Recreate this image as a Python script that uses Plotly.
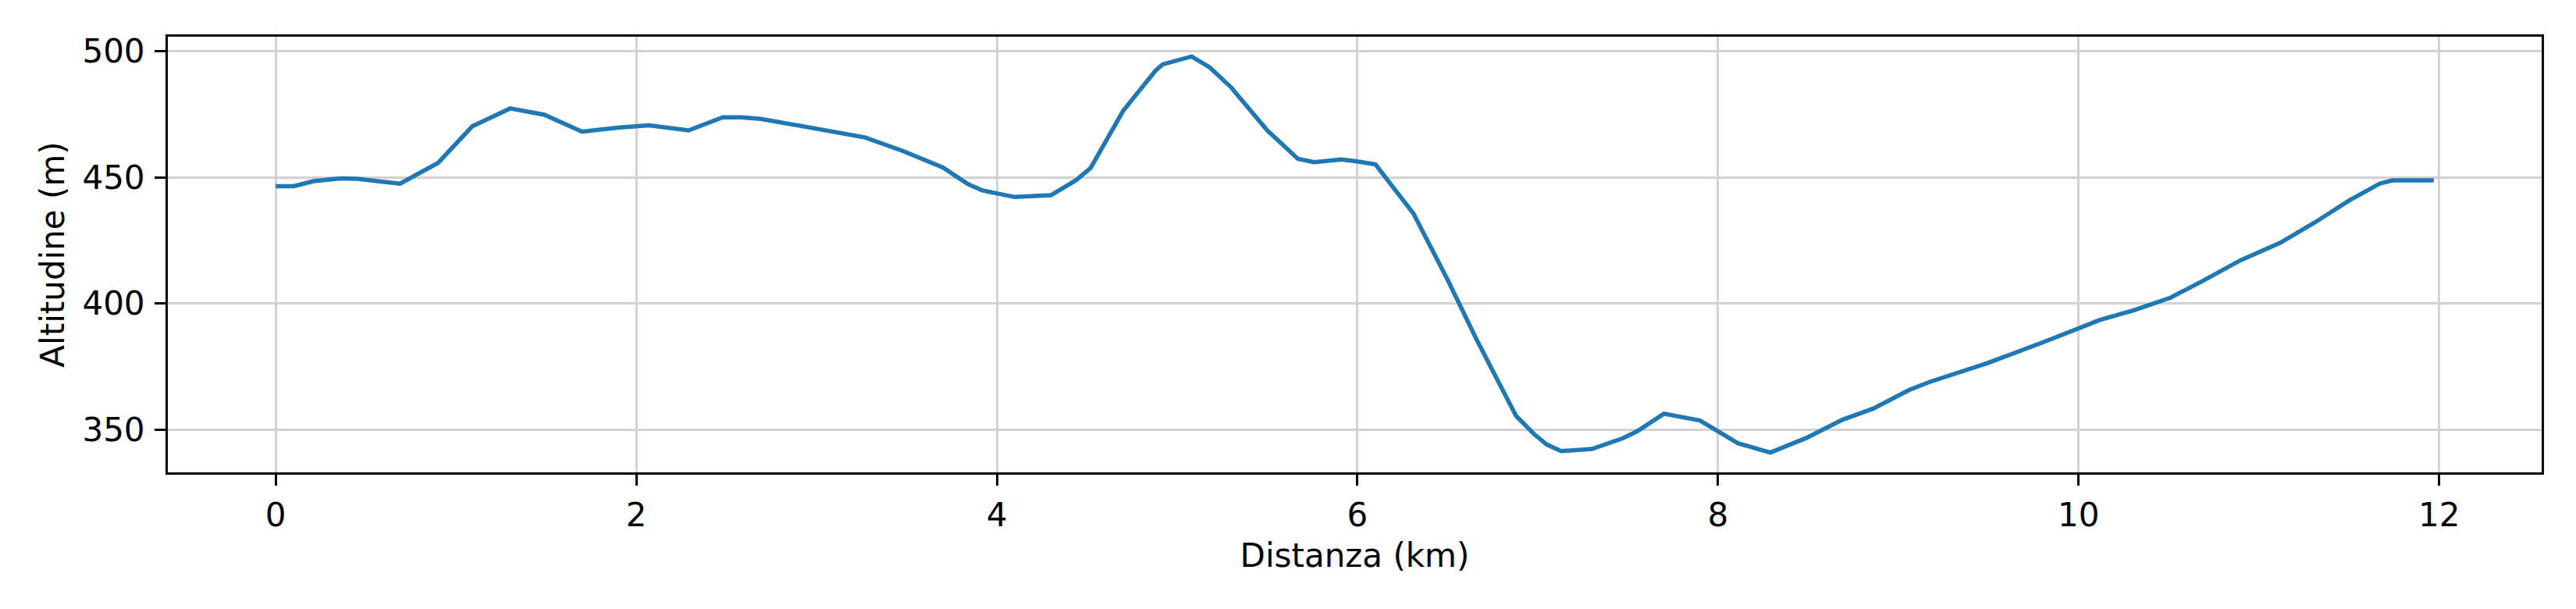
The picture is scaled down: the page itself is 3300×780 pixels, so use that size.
import plotly.graph_objects as go

distanza_km = [0.0, 0.1, 0.21, 0.36, 0.45, 0.69, 0.90, 1.09, 1.30, 1.49, 1.70, 1.91, 2.07, 2.29,
               2.48, 2.58, 2.69, 2.88, 3.06, 3.27, 3.48, 3.70, 3.84, 3.92, 4.10, 4.30, 4.44, 4.52,
               4.70, 4.88, 4.92, 5.08, 5.18, 5.30, 5.50, 5.67, 5.76, 5.91, 6.00, 6.10, 6.31, 6.50,
               6.66, 6.88, 6.98, 7.05, 7.13, 7.30, 7.47, 7.55, 7.70, 7.90, 8.11, 8.29, 8.49, 8.69,
               8.86, 9.06, 9.17, 9.28, 9.50, 9.81, 10.0, 10.12, 10.31, 10.51, 10.69, 10.90, 11.12,
               11.31, 11.50, 11.67, 11.74, 11.97]
altitudine_m = [446.5, 446.5, 448.5, 449.6, 449.4, 447.5, 455.7, 470.2, 477.3, 474.8, 468.1, 469.8,
                470.6, 468.6, 473.8, 473.8, 473.2, 470.9, 468.6, 465.8, 460.4, 453.9, 447.3, 444.8,
                442.2, 442.9, 448.9, 453.7, 476.3, 492.3, 494.8, 497.9, 493.6, 485.6, 468.6, 457.3,
                456.0, 457.1, 456.3, 455.1, 435.7, 409.4, 385.8, 355.4, 348.2, 344.1, 341.5, 342.3,
                346.5, 349.3, 356.3, 353.6, 344.6, 340.9, 346.7, 353.9, 358.3, 365.7, 368.8, 371.4,
                376.5, 384.8, 389.9, 393.5, 397.4, 402.3, 409.0, 417.2, 424.1, 432.1, 440.8, 447.5,
                448.8, 448.8]

x_ticks = [0, 2, 4, 6, 8, 10, 12]
y_ticks = [350, 400, 450, 500]
x_title = "Distanza (km)"
y_title = "Altitudine (m)"

xmin, xmax = min(distanza_km), max(distanza_km)
ymin, ymax = min(altitudine_m), max(altitudine_m)
xpad = 0.05 * (xmax - xmin)
ypad = 0.05 * (ymax - ymin)

fig = go.Figure()
fig.add_trace(go.Scatter(x=distanza_km, y=altitudine_m, mode="lines",
                         line=dict(color="#1f77b4", width=5.5), showlegend=False))

font_family = "DejaVu Sans"
axis_common = dict(
    showline=True, linecolor="black", linewidth=3, mirror=True,
    ticks="outside", ticklen=14, tickwidth=3, tickcolor="black",
    showgrid=True, gridcolor="#d2d2d2", gridwidth=3, zeroline=False,
    tickfont=dict(family=font_family, size=42, color="black"),
)

fig.update_layout(
    width=3292, height=772,
    margin=dict(l=207, r=44, t=39, b=175),
    paper_bgcolor="white", plot_bgcolor="white",
    font=dict(family=font_family, color="black"),
    xaxis=dict(range=[xmin - xpad, xmax + xpad], tickvals=x_ticks, ticklabelstandoff=2,
               title=dict(text=x_title, font=dict(family=font_family, size=42), standoff=14),
               **axis_common),
    yaxis=dict(range=[ymin - ypad, ymax + ypad], tickvals=y_ticks, ticklabelstandoff=4,
               title=dict(text=y_title, font=dict(family=font_family, size=42), standoff=10),
               **axis_common),
)

fig.write_html("out.html")
